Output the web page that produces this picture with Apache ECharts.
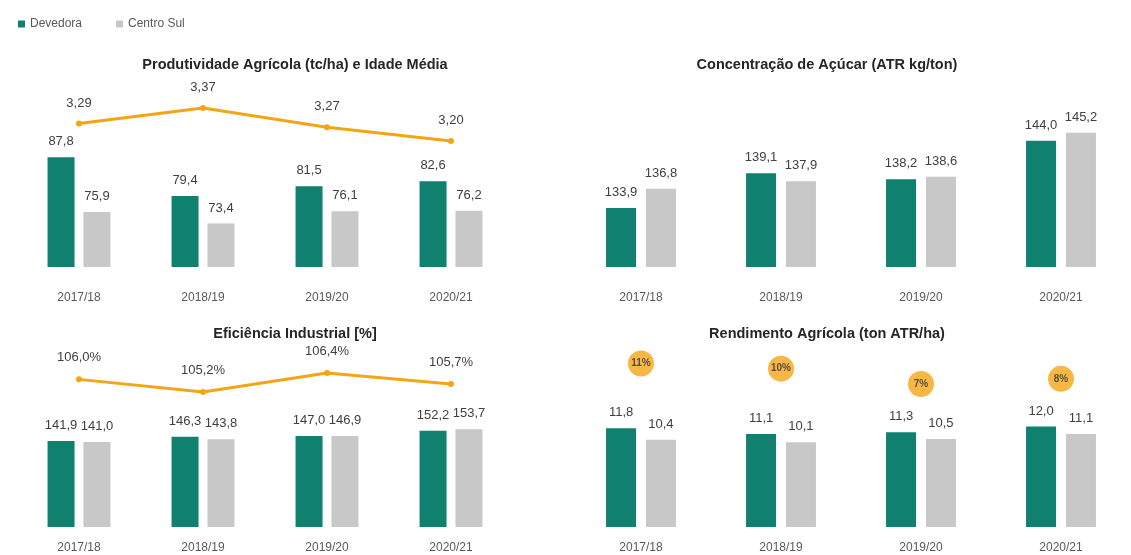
<!DOCTYPE html>
<html>
<head>
<meta charset="utf-8">
<style>
html,body{margin:0;padding:0;background:#fff;}
#chart{width:1131px;height:555px;}
</style>
<script src="https://cdn.jsdelivr.net/npm/echarts@6/dist/echarts.min.js"></script>
</head>
<body>
<div id="chart"></div>
<script>
// ---- data ----
const categories = ['2017/18', '2018/19', '2019/20', '2020/21'];
const seriesNames = ['Devedora', 'Centro Sul'];
const prodDev = [87.8, 79.4, 81.5, 82.6];
const prodCS = [75.9, 73.4, 76.1, 76.2];
const idadeMedia = [3.29, 3.37, 3.27, 3.20];
const atrDev = [133.9, 139.1, 138.2, 144.0];
const atrCS = [136.8, 137.9, 138.6, 145.2];
const efDev = [141.9, 146.3, 147.0, 152.2];
const efCS = [141.0, 143.8, 146.9, 153.7];
const efPct = [106.0, 105.2, 106.4, 105.7];
const rendDev = [11.8, 11.1, 11.3, 12.0];
const rendCS = [10.4, 10.1, 10.5, 11.1];
const rendPct = [11, 10, 7, 8];
const titles = ['Produtividade Agrícola (tc/ha) e Idade Média', 'Concentração de Açúcar (ATR kg/ton)', 'Eficiência Industrial [%]', 'Rendimento Agrícola (ton ATR/ha)'];

// ---- styles ----
const GREEN = '#10806F';
const GREY = '#C9C8C8';
const ORANGE = '#F4A516';
const FONT = 'Liberation Sans';
const fmt1 = v => v.toFixed(1).replace('.', ',');
const fmt2 = v => v.toFixed(2).replace('.', ',');

const chart = echarts.init(document.getElementById('chart'), null, {renderer: 'canvas'});

const grids = [
  {left: 17, width: 496, top: 99, height: 168},
  {left: 571, width: 564, top: 99, height: 168},
  {left: 17, width: 496, top: 359, height: 168},
  {left: 571, width: 564, top: 359, height: 168}
];

function xAx(i, margin) {
  return {
    type: 'category', gridIndex: i, data: categories,
    axisLine: {show: false}, axisTick: {show: false},
    axisLabel: {margin: margin, fontFamily: FONT, fontSize: 12, color: '#595959'}
  };
}
function yAx(i, min, max) {
  return {type: 'value', gridIndex: i, min: min, max: max, show: false, splitLine: {show: false}};
}
const barLabel = f => ({show: true, position: 'top', distance: 9, formatter: p => f(p.value), fontFamily: FONT, fontSize: 13, color: '#404040'});

function bars(gi, yi, dev, cs, bw, gap) {
  return [
    {name: seriesNames[0], type: 'bar', xAxisIndex: gi, yAxisIndex: yi, data: dev, barWidth: bw, barGap: gap,
     itemStyle: {color: GREEN}, label: barLabel(fmt1)},
    {name: seriesNames[1], type: 'bar', xAxisIndex: gi, yAxisIndex: yi, data: cs, barWidth: bw, barGap: gap,
     itemStyle: {color: GREY}, label: barLabel(fmt1)}
  ];
}

const option = {
  backgroundColor: '#ffffff',
  animation: false,
  textStyle: {fontFamily: FONT},
  legend: {
    data: seriesNames, left: 13, top: 13, itemWidth: 7, itemHeight: 7, itemGap: 34, icon: 'rect',
    textStyle: {fontFamily: FONT, fontSize: 12, color: '#595959'}
  },
  title: [
    {text: titles[0], left: 290, top: 52, textAlign: 'center'},
    {text: titles[1], left: 822, top: 52, textAlign: 'center'},
    {text: titles[2], left: 290, top: 321, textAlign: 'center'},
    {text: titles[3], left: 822, top: 321, textAlign: 'center'}
  ].map(t => Object.assign(t, {textStyle: {fontFamily: FONT, fontSize: 14.5, fontWeight: 'bold', color: '#262626'}})),
  grid: grids,
  xAxis: [xAx(0, 25), xAx(1, 25), xAx(2, 15), xAx(3, 15)],
  yAxis: [
    yAx(0, 64, 100.4),
    yAx(0, 2.550, 3.416),
    yAx(1, 125, 150.3),
    yAx(2, 56, 224),
    yAx(2, 96.65, 107.29),
    yAx(3, 0, 20.05),
    yAx(3, -21.05, 11.89)
  ],
  series: [
    ...bars(0, 0, prodDev, prodCS, 27, '33%'),
    {name: 'Idade Média', type: 'line', xAxisIndex: 0, yAxisIndex: 1, data: idadeMedia,
     symbol: 'circle', symbolSize: 6, lineStyle: {color: ORANGE, width: 3}, itemStyle: {color: ORANGE},
     label: {show: true, position: 'top', distance: 11, formatter: p => fmt2(p.value), fontFamily: FONT, fontSize: 13, color: '#404040'}},
    ...bars(1, 2, atrDev, atrCS, 30, '33%'),
    ...bars(2, 3, efDev, efCS, 27, '33%'),
    {name: 'Eficiência', type: 'line', xAxisIndex: 2, yAxisIndex: 4, data: efPct,
     symbol: 'circle', symbolSize: 6, lineStyle: {color: ORANGE, width: 3}, itemStyle: {color: ORANGE},
     label: {show: true, position: 'top', distance: 12, formatter: p => fmt1(p.value) + '%', fontFamily: FONT, fontSize: 13, color: '#404040'}},
    ...bars(3, 5, rendDev, rendCS, 30, '33%'),
    {name: 'Diferença', type: 'scatter', xAxisIndex: 3, yAxisIndex: 6, data: rendPct,
     symbol: 'circle', symbolSize: 26, itemStyle: {color: ORANGE},
     label: {show: true, position: 'inside', formatter: p => p.value + '%', fontFamily: FONT, fontSize: 10, fontWeight: 'bold', color: '#333333'}}
  ]
};
chart.setOption(option);
</script>
</body>
</html>
